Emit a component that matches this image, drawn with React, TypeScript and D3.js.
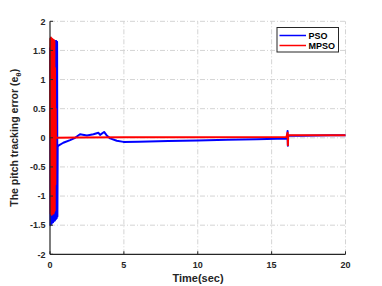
import React from "react";
import * as d3 from "d3";

const xTicks = [0, 5, 10, 15, 20];
const yTicks = [-2, -1.5, -1, -0.5, 0, 0.5, 1, 1.5, 2];
const yTickLabels = ["-2", "-1.5", "-1", "-0.5", "0", "0.5", "1", "1.5", "2"];

const psoTime = [0, 0.03, 0.06, 0.09, 0.12, 0.15, 0.18, 0.21, 0.24, 0.27, 0.3, 0.33, 0.36, 0.39, 0.42, 0.45, 0.48, 0.5, 0.52, 0.6, 0.9, 1.36, 1.7, 2.03, 2.5, 2.94, 3.28, 3.39, 3.66, 3.84, 4.07, 4.52, 4.97, 6.0, 8.0, 10.0, 12.0, 14.0, 16.05, 16.08, 16.1, 16.12, 17, 18, 19, 20];
const psoValue = [1.55, -1.5, 1.6, -1.48, 1.62, -1.46, 1.64, -1.45, 1.65, -1.43, 1.65, -1.42, 1.66, -1.4, 1.66, -1.38, 1.65, -1.35, -0.15, -0.13, -0.085, -0.04, 0.0, 0.06, 0.04, 0.06, 0.086, 0.05, 0.1, 0.04, -0.01, -0.05, -0.07, -0.066, -0.055, -0.045, -0.035, -0.025, -0.01, 0.115, -0.137, 0.035, 0.037, 0.04, 0.042, 0.045];

const mpsoTime = [0, 0.02, 0.04, 0.06, 0.08, 0.1, 0.12, 0.14, 0.16, 0.18, 0.2, 0.22, 0.24, 0.26, 0.28, 0.3, 0.32, 0.34, 0.36, 0.38, 0.4, 2, 5, 10, 16.0, 16.08, 16.1, 16.12, 18, 20];
const mpsoValue = [0, 1.7, -1.3, 1.72, -1.3, 1.71, -1.32, 1.7, -1.3, 1.69, -1.28, 1.68, -1.3, 1.68, -1.27, 1.66, -1.25, 1.2, -0.8, 0.5, 0.0, 0.005, 0.01, 0.01, 0.015, 0.086, -0.126, 0.046, 0.044, 0.042];

const seriesNames = ["PSO", "MPSO"];
const seriesColors = ["#0000ff", "#ff0000"];

export default function App() {
  const W = 382, H = 286;
  const x = d3.scaleLinear().domain([0, 20]).range([50, 345.5]);
  const y = d3.scaleLinear().domain([-2, 2]).range([254.3, 21.3]);
  const line = d3
    .line<[number, number]>()
    .x((d) => x(d[0]))
    .y((d) => y(d[1]));
  const pso: [number, number][] = psoTime.map((t, i) => [t, psoValue[i]]);
  const mpso: [number, number][] = mpsoTime.map((t, i) => [t, mpsoValue[i]]);
  const font = "Liberation Sans, Arial, Helvetica, sans-serif";
  const grid = "#d4d4d4";
  const axisC = "#262626";
  return (
    <svg width={W} height={H} style={{ position: "absolute", left: 0, top: 0, background: "#fff" }} fontFamily={font}>
      <rect x={0} y={0} width={W} height={H} fill="#fff" />
      {/* grid */}
      {xTicks.filter((t) => t > 0).map((t) => (
        <line key={"gx" + t} x1={x(t)} x2={x(t)} y1={y(-2)} y2={y(2)} stroke={grid} strokeWidth={1} strokeDasharray="5,2,1,2" />
      ))}
      {yTicks.filter((t) => t > -2).map((t) => (
        <line key={"gy" + t} x1={x(0)} x2={x(20)} y1={y(t)} y2={y(t)} stroke={grid} strokeWidth={1} strokeDasharray="5,2,1,2" />
      ))}
      {/* data */}
      <path d={line(pso) || ""} fill="none" stroke={seriesColors[0]} strokeWidth={2} strokeLinejoin="round" />
      <path d={line(mpso) || ""} fill="none" stroke={seriesColors[1]} strokeWidth={2} strokeLinejoin="round" />
      {/* axes */}
      <line x1={x(0)} x2={x(0)} y1={y(-2)} y2={y(2)} stroke={axisC} strokeWidth={1.2} />
      <line x1={x(0)} x2={x(20)} y1={y(-2)} y2={y(-2)} stroke={axisC} strokeWidth={1.2} />
      {xTicks.map((t) => (
        <g key={"xt" + t}>
          <line x1={x(t)} x2={x(t)} y1={y(-2)} y2={y(-2) - 3} stroke={axisC} strokeWidth={1} />
          <text x={x(t)} y={267.6} textAnchor="middle" fontSize={9} fontWeight="bold" fill={axisC}>
            {t}
          </text>
        </g>
      ))}
      {yTicks.map((t, i) => (
        <g key={"yt" + t}>
          <line x1={x(0)} x2={x(0) + 3} y1={y(t)} y2={y(t)} stroke={axisC} strokeWidth={1} />
          <text x={x(0) - 4.5} y={y(t) + 3.3} textAnchor="end" fontSize={9} fontWeight="bold" fill={axisC}>
            {yTickLabels[i]}
          </text>
        </g>
      ))}
      <text x={198} y={281.5} textAnchor="middle" fontSize={11} fontWeight="bold" fill={axisC}>
        Time(sec)
      </text>
      <text transform={`translate(17.5,${(y(-2) + y(2)) / 2}) rotate(-90)`} textAnchor="middle" fontSize={10.5} fontWeight="bold" fill={axisC}>
        The pitch tracking error (e
        <tspan fontSize={8} dy={3}>θ</tspan>
        <tspan dy={-3}>)</tspan>
      </text>
      {/* legend */}
      <rect x={277} y={27.5} width={61.5} height={24.5} fill="#fff" stroke="#262626" strokeWidth={1} />
      {seriesNames.map((n, i) => (
        <g key={n}>
          <line x1={279.5} x2={306} y1={35.5 + i * 10} y2={35.5 + i * 10} stroke={seriesColors[i]} strokeWidth={1.5} />
          <text x={308.5} y={38.8 + i * 10} fontSize={9} fontWeight="bold" fill="#000">
            {n}
          </text>
        </g>
      ))}
    </svg>
  );
}
